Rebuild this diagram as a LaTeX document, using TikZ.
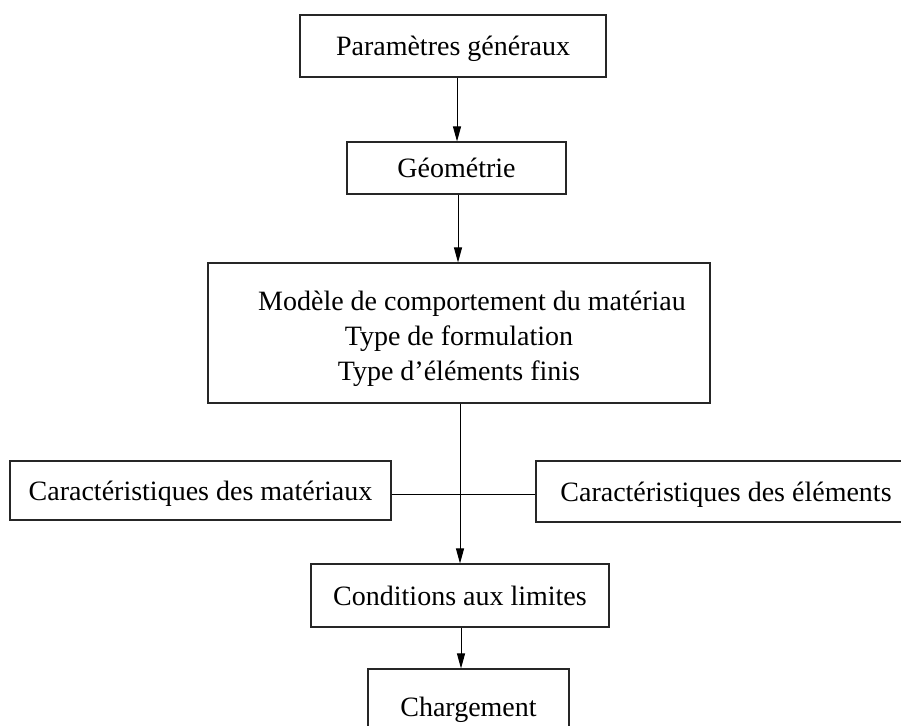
\documentclass[tikz,border=0pt]{standalone}
\usepackage{fontspec}
\setmainfont{Liberation Serif}
\usetikzlibrary{arrows.meta}
\begin{document}
\begin{tikzpicture}[x=1pt,y=1pt,
  box/.style={draw=black!85, line width=1.1pt, rectangle, inner sep=0pt, text depth=0pt, font=\fontsize{28}{35}\selectfont},
  conn/.style={line width=1pt, draw=black},
  arr/.style={conn, -{Triangle[length=15pt,width=8pt]}}]
\useasboundingbox (0,0) rectangle (901,-725);
\clip (0,0) rectangle (901,-725);
\node[box, minimum width=306pt, minimum height=62pt] (p1) at (453,-46) {Paramètres généraux};
\node[box, minimum width=219pt, minimum height=52pt] (p2) at (456.5,-168) {Géométrie};
\node[box, minimum width=502pt, minimum height=140pt] (p3) at (459,-333)
  {\begin{tabular}[b]{@{}c@{}}\hspace*{26pt}Modèle de comportement du matériau\\Type de formulation\\Type d’éléments finis\end{tabular}};
\node[box, minimum width=381pt, minimum height=59pt] (cm) at (200.5,-490.5) {Caractéristiques des matériaux};
\node[box, minimum width=380pt, minimum height=61pt] (ce) at (726,-491.5) {Caractéristiques des éléments};
\node[box, minimum width=298pt, minimum height=63pt] (cl) at (460,-595.5) {Conditions aux limites};
\node[box, minimum width=201pt, minimum height=76pt] (ch) at (468.5,-707) {Chargement};
\coordinate (j) at (460,-494);
\draw[arr] (p1.south -| 457,0) -- (p2.north -| 457,0);
\draw[arr] (p2.south -| 458,0) -- (p3.north -| 458,0);
\draw[arr] (p3.south -| j) -- (cl.north -| j);
\draw[conn] (cm.east |- j) -- (ce.west |- j);
\draw[arr] (cl.south -| 461,0) -- (ch.north -| 461,0);
\end{tikzpicture}
\end{document}
